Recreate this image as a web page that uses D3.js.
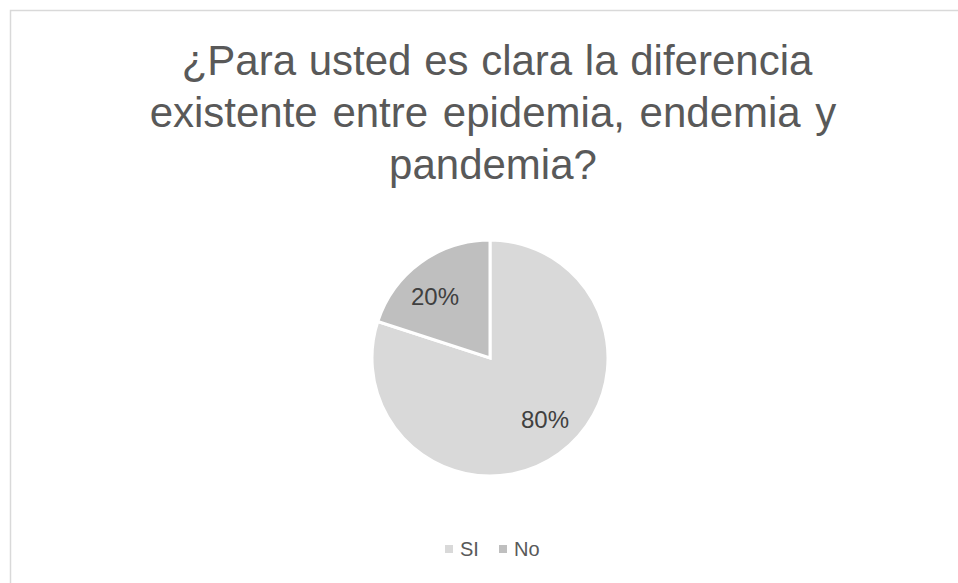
<!DOCTYPE html>
<html>
<head>
<meta charset="utf-8">
<script src="https://cdn.jsdelivr.net/npm/d3@7"></script>
<style>
  body { margin: 0; background: #fff; }
  svg { display: block; font-family: "Liberation Sans", Arial, sans-serif; }
</style>
</head>
<body>
<svg id="chart" width="958" height="583"></svg>
<script>
// chart data
const categories = ["SI", "No"];
const values = [80, 20];
const colors = ["#d9d9d9", "#bfbfbf"];
const titleLines = ["¿Para usted es clara la diferencia", "existente entre epidemia, endemia y", "pandemia?"];

const width = 958, height = 583;
const svg = d3.select("#chart");

// chart frame (cut off at right and bottom)
svg.append("rect")
    .attr("x", 10.5).attr("y", 10.5)
    .attr("width", 960).attr("height", 600)
    .attr("fill", "#fff")
    .attr("stroke", "#d9d9d9")
    .attr("stroke-width", 1.5);

// title
svg.append("text")
    .attr("text-anchor", "middle")
    .attr("fill", "#595959")
    .style("font-size", "42px")
    .selectAll("tspan")
    .data(titleLines).join("tspan")
    .attr("x", (d, i) => i == 0 ? 497 : 493)
    .attr("y", (d, i) => 75 + i * 52)
    .style("word-spacing", (d, i) => i == 1 ? "3px" : "1px")
    .text(d => d);

// pie
const cx = 490, cy = 358, r = 118;
const pie = d3.pie().sort(null).value(d => d.value);
const arc = d3.arc().innerRadius(0).outerRadius(r);
const data = categories.map((c, i) => ({name: c, value: values[i], color: colors[i]}));
const total = d3.sum(values);

const g = svg.append("g").attr("transform", `translate(${cx},${cy})`);
const arcs = pie(data);
g.selectAll("path")
    .data(arcs).join("path")
    .attr("d", arc)
    .attr("fill", d => d.data.color)
    .attr("stroke", "#fff")
    .attr("stroke-width", 3);

// labels sit a bit counter-clockwise of the slice middle, like the original
const labelArc = d3.arc().innerRadius(r * 0.7).outerRadius(r * 0.7);
const shift = 0.1;
g.selectAll("text")
    .data(arcs).join("text")
    .attr("transform", d => `translate(${labelArc.centroid({startAngle: d.startAngle - shift, endAngle: d.endAngle - shift})})`)
    .attr("text-anchor", "middle")
    .attr("dy", "0.35em")
    .attr("fill", "#404040")
    .style("font-size", "24px")
    .text(d => Math.round(d.data.value / total * 100) + "%");

// legend
const legend = svg.append("g").attr("transform", "translate(445,549)");
const items = legend.selectAll("g")
    .data(data).join("g")
    .attr("transform", (d, i) => `translate(${i * 54},0)`);
items.append("rect")
    .attr("x", 0).attr("y", -4)
    .attr("width", 8).attr("height", 8)
    .attr("fill", d => d.color);
items.append("text")
    .attr("x", 15)
    .attr("dy", "0.36em")
    .attr("fill", "#595959")
    .style("font-size", "20px")
    .text(d => d.name);
</script>
</body>
</html>
